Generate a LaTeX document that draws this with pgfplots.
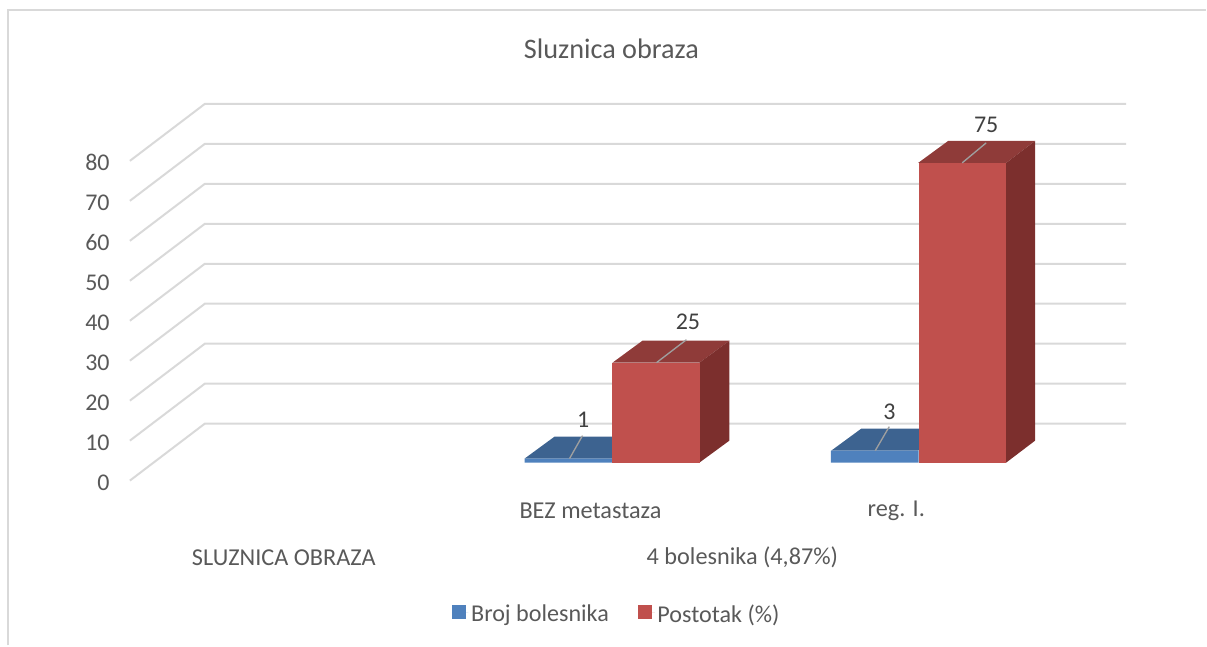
\documentclass[border=0pt]{standalone}
\usepackage{pgfplots}
\pgfplotsset{compat=1.18}
\usepackage{fontspec}
\setmainfont{Carlito}
\definecolor{gridc}{HTML}{D9D9D9}
\definecolor{txt}{HTML}{595959}
\definecolor{lab}{HTML}{404040}
\definecolor{bluef}{HTML}{4F81BD}
\definecolor{bluet}{HTML}{3D6390}
\definecolor{redf}{HTML}{C0504D}
\definecolor{redt}{HTML}{8F3B39}
\definecolor{reds}{HTML}{7C2F2D}
\begin{document}
\begin{tikzpicture}[x=1pt,y=1pt]
\begin{axis}[
  scale only axis, width=747.75pt, height=240pt,
  xmin=130, xmax=1127, ymin=0, ymax=80,
  clip=false,
  axis line style={draw=none},
  tick style={draw=none},
  /pgf/number format/assume math mode=true,
  ytick={0,10,...,80},
  yticklabel style={font=\fontsize{18}{20}\selectfont, text=txt, yshift=-1.5pt},
  tick label style={inner sep=0pt},
  y tick label style={xshift=-15pt},
  xtick={591,897},
  xticklabels={BEZ metastaza, reg. I.},
  x tick label style={font=\fontsize{18.2}{20}\selectfont, text=txt, anchor=center, yshift=-22.5pt},
  title={Sluznica obraza},
  title style={at={(rel axis cs:0.4834,1.325)}, anchor=center, font=\fontsize{21.2}{23}\selectfont, text=txt},
  legend style={at={(axis cs:617.5,-33.5)}, anchor=center, draw=none, fill=none, legend columns=2,
    font=\fontsize{18.1}{20}\selectfont, text=txt,
    /tikz/every even column/.append style={column sep=20pt}},
  legend cell align=left,
]
% frame and bounding box
\path (axis cs:0,-41.25) rectangle (axis cs:1207,120.25);
\draw[gridc, line width=1.5pt] (axis cs:8,-41.25) -- (axis cs:8,117.75) -- (axis cs:1207,117.75);

% gridlines of the back wall and side wall
\addplot[forget plot, color=gridc, line width=1.5pt, unbounded coords=jump] table[row sep=\\] {
x y\\
130 0\\ 205 14.25\\ 1127 14.25\\ nan nan\\
130 10\\ 205 24.25\\ 1127 24.25\\ nan nan\\
130 20\\ 205 34.25\\ 1127 34.25\\ nan nan\\
130 30\\ 205 44.25\\ 1127 44.25\\ nan nan\\
130 40\\ 205 54.25\\ 1127 54.25\\ nan nan\\
130 50\\ 205 64.25\\ 1127 64.25\\ nan nan\\
130 60\\ 205 74.25\\ 1127 74.25\\ nan nan\\
130 70\\ 205 84.25\\ 1127 84.25\\ nan nan\\
130 80\\ 205 94.25\\ 1127 94.25\\
};

% blue tops
\addplot[forget plot, fill=bluet, draw=none, yshift=13.5pt] coordinates {(525,1) (613,1) (643,6.5) (555,6.5)} --cycle;
\addplot[forget plot, fill=bluet, draw=none, yshift=13.5pt] coordinates {(832,3) (919,3) (949,8.5) (862,8.5)} --cycle;

% blue fronts
\addplot[ybar, bar shift=0pt, bar width=66pt, fill=bluef, draw=none, yshift=13.5pt,
  legend image code/.code={\fill[bluef] (0pt,-17.25pt) rectangle (10.5pt,-6.75pt); \path (0pt,-12pt) -- (12.5pt,-12pt);},
  nodes near coords, every node near coord/.style={font=\fontsize{18}{20}\selectfont, text=lab, anchor=center, xshift=11pt, yshift=29.5pt}]
  coordinates {(569,1) (875.5,3)};
\addlegendentry{Broj bolesnika}

% red tops and sides
\addplot[forget plot, fill=redt, draw=none, yshift=13.5pt] coordinates {(613,25) (700,25) (730,30.5) (643,30.5)} --cycle;
\addplot[forget plot, fill=reds, draw=none, yshift=13.5pt] coordinates {(700,0) (730,5.5) (730,30.5) (700,25)} --cycle;
\addplot[forget plot, fill=redt, draw=none, yshift=13.5pt] coordinates {(919,75) (1007,75) (1036,80.5) (949,80.5)} --cycle;
\addplot[forget plot, fill=reds, draw=none, yshift=13.5pt] coordinates {(1007,0) (1036,5.5) (1036,80.5) (1007,75)} --cycle;

% red fronts
\addplot[ybar, bar shift=0pt, bar width=65.5pt, fill=redf, draw=none, yshift=13.5pt,
  legend image code/.code={\fill[redf] (0pt,-17.25pt) rectangle (10.5pt,-6.75pt); \path (0pt,-12pt) -- (12.5pt,-12pt);},
  nodes near coords, every node near coord/.style={font=\fontsize{18}{20}\selectfont, text=lab, anchor=center, xshift=24pt, yshift=30.5pt}]
  coordinates {(656.5,25)};
\addlegendentry{Postotak (\%)}
\addplot[forget plot, ybar, bar shift=0pt, bar width=65.5pt, fill=redf, draw=none, yshift=13.5pt,
  nodes near coords, every node near coord/.style={font=\fontsize{18}{20}\selectfont, text=lab, anchor=center, xshift=18pt, yshift=28.5pt}]
  coordinates {(963,75)};

% leader lines
\addplot[forget plot, color=gray!75, line width=1pt, yshift=13.5pt] coordinates {(570,1) (583,6.75)};
\addplot[forget plot, color=gray!75, line width=1pt, yshift=13.5pt] coordinates {(876,3) (890,9)};
\addplot[forget plot, color=gray!75, line width=1pt, yshift=13.5pt] coordinates {(657,25) (687,30.75)};
\addplot[forget plot, color=gray!75, line width=1pt, yshift=13.5pt] coordinates {(963,75) (987,80)};

\node[font=\fontsize{18.2}{20}\selectfont, text=txt] at (axis cs:284,-19.25) {SLUZNICA OBRAZA};
\node[font=\fontsize{18.2}{20}\selectfont, text=txt] at (axis cs:743,-19.25) {4 bolesnika (4,87\%)};
\end{axis}
\end{tikzpicture}
\end{document}
